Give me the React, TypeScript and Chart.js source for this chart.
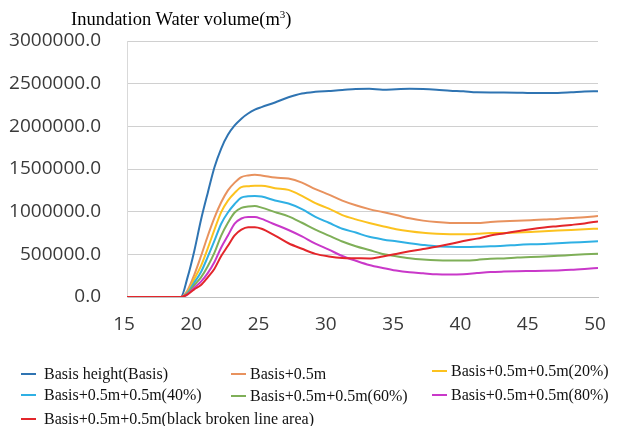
import { useEffect, useRef } from 'react';
import { Chart, registerables } from 'chart.js';

Chart.register(...registerables);

// time axis (x) values
const timeSteps = [
  15, 16, 17, 18, 19, 19.5, 20, 20.5, 21, 21.5, 22, 22.5, 23, 23.5, 24, 24.5,
  25, 26, 27, 28, 29, 30, 31, 32, 33, 34, 35, 36, 37, 38, 39, 40, 41, 42, 43,
  44, 45, 46, 47, 48, 49, 50,
];

const basisHeight = [
  0, 0, 0, 0, 0, 230000, 540000, 905000, 1220000, 1520000, 1740000, 1900000,
  2010000, 2090000, 2150000, 2195000, 2225000, 2280000, 2340000, 2385000,
  2405000, 2415000, 2425000, 2438000, 2440000, 2430000, 2435000, 2440000,
  2438000, 2430000, 2418000, 2410000, 2398000, 2397000, 2397000, 2395000,
  2390000, 2390000, 2390000, 2398000, 2408000, 2412000,
];

const basisPlus05 = [
  0, 0, 0, 0, 0, 80000, 260000, 480000, 715000, 930000, 1110000, 1250000,
  1340000, 1405000, 1425000, 1433000, 1425000, 1400000, 1388000, 1340000,
  1265000, 1200000, 1130000, 1075000, 1030000, 995000, 960000, 922000,
  895000, 878000, 868000, 866000, 866000, 878000, 888000, 895000, 900000,
  908000, 915000, 925000, 935000, 948000,
];

const plus20 = [
  0, 0, 0, 0, 0, 60000, 210000, 365000, 570000, 790000, 995000, 1130000,
  1220000, 1288000, 1298000, 1305000, 1305000, 1275000, 1255000, 1185000,
  1100000, 1035000, 960000, 910000, 868000, 830000, 795000, 770000, 752000,
  742000, 736000, 734000, 740000, 750000, 750000, 757000, 762000, 770000,
  778000, 786000, 794000, 801000,
];

const plus40 = [
  0, 0, 0, 0, 0, 50000, 170000, 293000, 470000, 660000, 859000, 990000,
  1090000, 1165000, 1180000, 1185000, 1178000, 1130000, 1095000, 1030000,
  940000, 870000, 800000, 755000, 705000, 675000, 652000, 630000, 610000,
  594000, 588000, 586000, 588000, 594000, 600000, 610000, 617000, 622000,
  630000, 638000, 645000, 652000,
];

const plus60 = [
  0, 0, 0, 0, 0, 40000, 140000, 230000, 360000, 520000, 720000, 870000,
  990000, 1045000, 1060000, 1066000, 1047000, 995000, 945000, 870000,
  790000, 720000, 650000, 595000, 550000, 505000, 478000, 455000, 440000,
  430000, 427000, 428000, 435000, 448000, 452000, 462000, 468000, 475000,
  482000, 492000, 500000, 508000,
];

const plus80 = [
  0, 0, 0, 0, 0, 30000, 110000, 180000, 280000, 410000, 580000, 720000,
  859000, 920000, 937000, 937000, 915000, 850000, 785000, 710000, 625000,
  555000, 480000, 425000, 375000, 340000, 310000, 290000, 278000, 266000,
  264000, 268000, 280000, 292000, 298000, 302000, 305000, 308000, 312000,
  318000, 328000, 340000,
];

const blackBrokenArea = [
  0, 0, 0, 0, 0, 30000, 90000, 140000, 230000, 332000, 480000, 600000,
  723000, 790000, 818000, 818000, 800000, 720000, 630000, 565000, 505000,
  475000, 458000, 455000, 452000, 475000, 505000, 535000, 562000, 588000,
  620000, 656000, 684000, 720000, 745000, 770000, 795000, 815000, 830000,
  845000, 862000, 886000,
];

const seriesLabels = [
  'Basis height(Basis)',
  'Basis+0.5m',
  'Basis+0.5m+0.5m(20%)',
  'Basis+0.5m+0.5m(40%)',
  'Basis+0.5m+0.5m(60%)',
  'Basis+0.5m+0.5m(80%)',
  'Basis+0.5m+0.5m(black broken line area)',
];

const seriesColors = [
  '#2f74b2',
  '#e8925e',
  '#fcc21f',
  '#2fb0e4',
  '#7faf58',
  '#c938c9',
  '#e3262b',
];

const allSeries = [
  basisHeight,
  basisPlus05,
  plus20,
  plus40,
  plus60,
  plus80,
  blackBrokenArea,
];

// legend placement: [markerLeft, textLeft, centerY]
const legendSlots: [number, number, number][] = [
  [21, 44, 374],
  [231, 250, 374],
  [432, 451, 371],
  [21, 44, 395],
  [231, 250, 396],
  [432, 451, 395],
  [21, 44, 419],
];

export default function App() {
  const ref = useRef<HTMLCanvasElement>(null);

  useEffect(() => {
    const canvas = ref.current;
    if (!canvas) return;
    const tickFont = { family: '"Open Sans", sans-serif', size: 19 };
    const chart = new Chart(canvas, {
      type: 'line',
      data: {
        datasets: allSeries.map((s, i) => ({
          label: seriesLabels[i],
          data: s.map((v, j) => ({ x: timeSteps[j], y: v })),
          borderColor: seriesColors[i],
          backgroundColor: seriesColors[i],
          borderWidth: 2,
          pointRadius: 0,
          pointHoverRadius: 0,
          cubicInterpolationMode: 'monotone' as const,
          order: allSeries.length - i,
        })),
      },
      options: {
        animation: false,
        responsive: false,
        maintainAspectRatio: false,
        layout: { padding: { left: 7, top: 41, right: 30, bottom: 89 } },
        plugins: {
          legend: { display: false },
          tooltip: { enabled: false },
          title: { display: false },
        },
        scales: {
          x: {
            type: 'linear',
            min: 15,
            max: 50,
            afterFit: (s: any) => {
              s.height = 40;
            },
            grid: { display: false, drawTicks: false },
            border: { display: true, color: '#bfbfbf', width: 1 },
            ticks: {
              stepSize: 5,
              padding: 16,
              labelOffset: -3,
              color: '#3a3a3a',
              font: tickFont,
              maxRotation: 0,
            },
          },
          y: {
            type: 'linear',
            min: 0,
            max: 3000000,
            afterFit: (s: any) => {
              s.width = 120;
            },
            grid: { color: '#d0d0d0', drawTicks: false, lineWidth: 1 },
            border: { display: true, color: '#d9d9d9', width: 1 },
            ticks: {
              stepSize: 500000,
              padding: 26,
              color: '#3a3a3a',
              font: tickFont,
              callback: (v: any) => Number(v).toFixed(1),
            },
          },
        },
      },
    });
    return () => chart.destroy();
  }, []);

  const serif = '"Liberation Serif", "Times New Roman", serif';

  return (
    <div
      style={{
        position: 'absolute',
        left: 0,
        top: 0,
        width: 628,
        height: 426,
        background: '#ffffff',
        overflow: 'hidden',
      }}
    >
      <canvas
        ref={ref}
        width={628}
        height={426}
        style={{ position: 'absolute', left: 0, top: 0, width: 628, height: 426 }}
      />
      <div
        style={{
          position: 'absolute',
          left: 71,
          top: 9,
          fontFamily: serif,
          fontSize: 18.5,
          lineHeight: '20px',
          color: '#000',
          whiteSpace: 'nowrap',
        }}
      >
        Inundation Water volume(m
        <span style={{ fontSize: 11, position: 'relative', top: -7 }}>3</span>)
      </div>
      {seriesLabels.map((label, i) => {
        const [mx, tx, cy] = legendSlots[i];
        return (
          <div key={label}>
            <div
              style={{
                position: 'absolute',
                left: mx,
                top: cy - 1.25,
                width: 15,
                height: 2.5,
                background: seriesColors[i],
              }}
            />
            <div
              style={{
                position: 'absolute',
                left: tx,
                top: cy - 10,
                height: 20,
                lineHeight: '20px',
                fontFamily: serif,
                fontSize: 16,
                color: '#111',
                whiteSpace: 'nowrap',
              }}
            >
              {label}
            </div>
          </div>
        );
      })}
    </div>
  );
}
